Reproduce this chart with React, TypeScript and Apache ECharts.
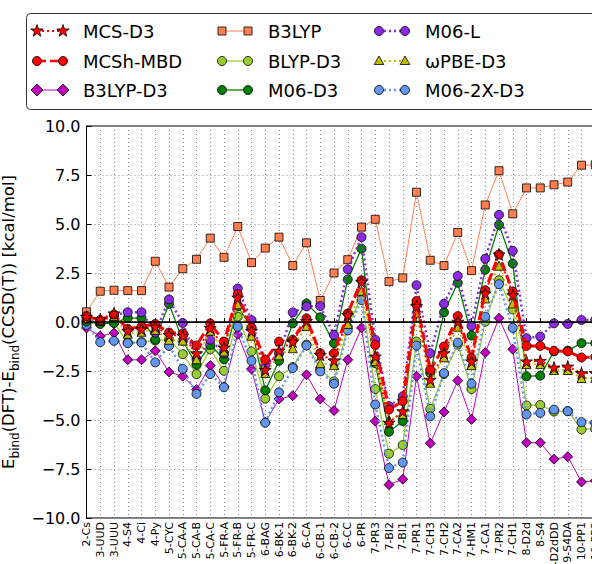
import { useEffect, useRef } from 'react';
import * as echarts from 'echarts';

// Complex labels along the x axis
const categories = [
  '2-Cs', '3-UUD', '3-UUU', '4-S4', '4-Ci', '4-Py', '5-CYC', '5-CA-A', '5-CA-B', '5-CA-C',
  '5-FR-A', '5-FR-B', '5-FR-C', '6-BAG', '6-BK-1', '6-BK-2', '6-CA', '6-CB-1', '6-CB-2', '6-CC',
  '6-PR', '7-PR3', '7-BI2', '7-BI1', '7-PR1', '7-CH3', '7-CH2', '7-CA2', '7-HM1', '7-CA1',
  '7-PR2', '7-CH1', '8-D2d', '8-S4', '8-D2dDD', '9-S4DA', '10-PP1', '10-PP2',
];

// Binding-energy errors, kcal/mol
const mcsD3 = [0.27, 0.14, 0.44, -0.45, -0.37, -0.24, -0.66, -0.70, -1.59, -0.30, -1.30, 1.25, -0.45, -2.44, -1.46, -1.00, 0.05, -1.68, -1.96, 0.36, 2.05, -1.76, -5.14, -4.55, 0.81, -2.94, -1.59, 0.02, -2.01, 1.46, 3.45, 1.37, -2.01, -1.98, -2.32, -2.27, -2.61, -2.60];
const mcshMbd = [0.30, 0.10, 0.38, -0.35, -0.24, -0.10, -0.54, -0.58, -1.20, -0.07, -1.00, 1.42, -0.30, -1.93, -1.00, -0.91, 0.19, -1.59, -1.59, 0.44, 2.13, -1.17, -4.47, -4.04, 1.07, -2.44, -1.25, 0.30, -1.84, 1.62, 3.45, 1.55, -1.22, -1.22, -1.47, -1.50, -1.81, -1.79];
const b3lypD3 = [-0.30, -0.72, -0.56, -1.93, -1.93, -1.47, -2.55, -2.77, -3.45, -2.22, -3.30, -0.63, -2.40, -5.12, -3.93, -3.76, -2.69, -3.93, -4.52, -1.93, -0.30, -5.06, -8.30, -8.02, -2.77, -6.19, -4.59, -2.99, -4.97, -1.56, 0.19, -1.39, -6.16, -6.16, -7.00, -6.87, -8.16, -8.10];
const b3lyp = [0.52, 1.57, 1.62, 1.60, 1.60, 3.10, 1.78, 2.72, 3.20, 4.28, 3.30, 4.87, 3.03, 3.77, 4.33, 2.88, 4.04, 1.10, 2.50, 3.18, 4.84, 5.24, 2.06, 2.25, 6.62, 3.15, 2.88, 4.57, 2.62, 5.97, 7.72, 5.52, 6.84, 6.84, 7.00, 7.14, 8.00, 8.02];
const blypD3 = [-0.03, -0.07, -0.03, -1.05, -1.02, -0.95, -0.90, -1.64, -2.66, -1.39, -2.49, 0.27, -1.50, -3.91, -2.77, -2.30, -1.15, -2.40, -3.03, -0.25, 1.30, -3.42, -6.72, -6.28, -1.00, -4.43, -2.65, -1.15, -3.42, 0.02, 2.13, 0.64, -4.26, -4.23, -4.57, -4.55, -5.48, -5.45];
const m06D3 = [0.02, -0.10, -0.05, 0.20, 0.20, -0.90, 0.93, -0.95, -2.18, -1.17, -1.90, 0.80, -0.30, -3.49, -1.98, -0.07, 0.95, 0.24, -1.08, 2.17, 3.74, -2.10, -5.60, -5.06, 0.90, -2.60, 0.49, 2.00, -0.69, 2.67, 4.96, 2.98, -2.77, -2.74, -1.50, -1.46, -1.08, -1.08];
const m06L = [0.15, 0.05, 0.35, 0.50, 0.50, -0.54, 1.15, -0.05, -1.90, -0.90, -1.60, 1.71, 0.10, -2.20, -1.60, 0.49, 0.80, 0.81, -0.66, 2.69, 4.33, -0.91, -4.30, -3.79, 1.88, -1.59, 0.93, 2.35, -0.20, 3.23, 5.47, 3.63, -0.83, -0.74, -0.07, -0.10, 0.10, 0.10];
const wpbeD3 = [0.20, 0.05, 0.30, -0.60, -0.50, -0.40, -0.91, -0.95, -1.90, -0.45, -1.50, 0.90, -0.70, -2.60, -1.70, -1.34, -0.20, -2.10, -2.20, -0.10, 1.59, -2.00, -5.00, -4.70, 0.45, -3.10, -1.80, -0.24, -2.20, 1.20, 2.87, 0.95, -2.15, -2.15, -2.45, -2.45, -2.86, -2.85];
const m062xD3 = [-0.15, -1.03, -0.96, -1.08, -1.05, -2.06, -1.22, -2.39, -3.67, -2.66, -3.33, -0.24, -1.98, -5.14, -3.59, -2.35, -1.20, -2.52, -3.15, -0.42, 1.12, -4.21, -7.45, -7.17, -1.20, -4.81, -2.61, -1.05, -3.15, 0.27, 1.93, -0.30, -4.72, -4.64, -4.47, -4.55, -5.11, -5.15];

// y axis range and step
const yMin = -10;
const yMax = 10;
const yStep = 2.5;

const FONT = 'DejaVu Sans';
const STAR_PATH =
  'path://M0,-10L2.245,-3.09L9.511,-3.09L3.633,1.18L5.878,8.09L0,3.82L-5.878,8.09L-3.633,1.18L-9.511,-3.09L-2.245,-3.09Z';

type Mark = 'star' | 'circle' | 'diamond' | 'rect' | 'triangle';

interface Method {
  name: string;
  values: number[];
  color: string;
  mark: Mark;
  size: number;
  dash: number[] | null;
  width: number;
}

// Listed in legend order (column by column)
const methods: Method[] = [
  { name: 'MCS-D3', values: mcsD3, color: '#ff0000', mark: 'star', size: 12, dash: [2, 3], width: 2 },
  { name: 'MCSh-MBD', values: mcshMbd, color: '#ff0000', mark: 'circle', size: 9, dash: [9, 4], width: 3 },
  { name: 'B3LYP-D3', values: b3lypD3, color: '#bf00bf', mark: 'diamond', size: 10, dash: null, width: 1 },
  { name: 'B3LYP', values: b3lyp, color: '#ff7f50', mark: 'rect', size: 8, dash: null, width: 1 },
  { name: 'BLYP-D3', values: blypD3, color: '#9acd32', mark: 'circle', size: 9, dash: null, width: 1.3 },
  { name: 'M06-D3', values: m06D3, color: '#008000', mark: 'circle', size: 9, dash: null, width: 1.3 },
  { name: 'M06-L', values: m06L, color: '#8a2be2', mark: 'circle', size: 9, dash: [2, 3], width: 2.5 },
  { name: 'ωPBE-D3', values: wpbeD3, color: '#bfbf00', mark: 'triangle', size: 9, dash: [2, 3], width: 2 },
  { name: 'M06-2X-D3', values: m062xD3, color: '#6495ed', mark: 'circle', size: 9, dash: [2, 3], width: 2.5 },
];

// Drawing order: the MCS curves go on top
const drawOrder = ['B3LYP', 'B3LYP-D3', 'BLYP-D3', 'M06-2X-D3', 'M06-D3', 'M06-L', 'ωPBE-D3', 'MCSh-MBD', 'MCS-D3'];

const symbolFor = (m: Mark) =>
  m === 'star' ? STAR_PATH : m === 'circle' ? 'circle' : m === 'diamond' ? 'diamond' : m === 'rect' ? 'rect' : 'triangle';

function legendMarker(m: Mark, cx: number, cy: number, color: string): any {
  const style = { fill: color, stroke: '#000', lineWidth: 0.8 };
  if (m === 'circle') return { type: 'circle', shape: { cx, cy, r: 4.5 }, style };
  if (m === 'rect') return { type: 'rect', shape: { x: cx - 4, y: cy - 4, width: 8, height: 8 }, style };
  if (m === 'diamond')
    return { type: 'polygon', shape: { points: [[cx, cy - 6], [cx + 6, cy], [cx, cy + 6], [cx - 6, cy]] }, style };
  if (m === 'triangle')
    return { type: 'polygon', shape: { points: [[cx, cy - 5], [cx + 4.8, cy + 3.5], [cx - 4.8, cy + 3.5]] }, style };
  const pts: number[][] = [];
  for (let k = 0; k < 10; k++) {
    const r = k % 2 === 0 ? 6.5 : 2.6;
    const a = -Math.PI / 2 + (k * Math.PI) / 5;
    pts.push([cx + r * Math.cos(a), cy + r * Math.sin(a)]);
  }
  return { type: 'polygon', shape: { points: pts }, style };
}

function buildLegend(): any[] {
  const colX = [37, 222, 379];
  const rowY = [31, 61, 90];
  const els: any[] = [
    {
      type: 'rect',
      shape: { x: 26.5, y: 13.5, width: 700, height: 96, r: 4 },
      style: { fill: '#fff', stroke: '#333', lineWidth: 1 },
      z: 10,
    },
  ];
  methods.forEach((m, i) => {
    const x0 = colX[Math.floor(i / 3)];
    const y = rowY[i % 3];
    els.push({
      type: 'line',
      shape: { x1: x0, y1: y, x2: x0 + 26, y2: y },
      style: { stroke: m.color, lineWidth: Math.min(m.width, 2.5), lineDash: m.dash ?? undefined },
      z: 11,
    });
    els.push({ ...legendMarker(m.mark, x0, y, m.color), z: 12 });
    els.push({ ...legendMarker(m.mark, x0 + 26, y, m.color), z: 12 });
    els.push({
      type: 'text',
      x: x0 + 46,
      y,
      style: { text: m.name, font: `18px "${FONT}"`, fill: '#000', verticalAlign: 'middle', textAlign: 'left' },
      z: 12,
    });
  });
  return els;
}

export default function App() {
  const ref = useRef<HTMLDivElement>(null);

  useEffect(() => {
    if (!ref.current) return;
    const chart = echarts.init(ref.current, undefined, { renderer: 'svg' });

    const series: any[] = drawOrder.map((nm, idx) => {
      const m = methods.find((x) => x.name === nm)!;
      const s: any = {
        name: m.name,
        type: 'line',
        data: m.values,
        symbol: symbolFor(m.mark),
        symbolSize: m.size,
        showSymbol: true,
        showAllSymbol: true,
        color: m.color,
        lineStyle: { color: m.color, width: m.width, type: m.dash ?? 'solid', cap: 'butt' },
        itemStyle: { color: m.color, borderColor: '#000', borderWidth: 0.8 },
        emphasis: { disabled: true },
        z: 2 + idx * 0.01,
      };
      if (idx === 0) {
        s.markLine = {
          silent: true,
          symbol: ['none', 'none'],
          label: { show: false },
          lineStyle: { color: '#000', type: 'solid', width: 1.5 },
          data: [{ yAxis: 0 }],
        };
      }
      return s;
    });

    const gridLine = { show: true, lineStyle: { color: '#8a8a8a', type: [1, 3], width: 1 } };

    chart.setOption({
      animation: false,
      backgroundColor: '#fff',
      textStyle: { fontFamily: FONT },
      grid: {
        left: 86.5,
        top: 126,
        width: 37 * 13.75,
        height: 392,
        show: true,
        borderColor: '#000',
        borderWidth: 1,
        containLabel: false,
        outerBoundsMode: 'none',
      },
      xAxis: {
        type: 'category',
        data: categories,
        boundaryGap: false,
        axisLine: { show: true, lineStyle: { color: '#000', width: 1 } },
        axisTick: { show: true, inside: true, length: 4, interval: 0, lineStyle: { color: '#000' } },
        axisLabel: { interval: 0, rotate: 90, fontSize: 11, margin: 4, color: '#000', fontFamily: FONT },
        splitLine: { ...gridLine, interval: 0 },
      },
      yAxis: {
        type: 'value',
        min: yMin,
        max: yMax,
        interval: yStep,
        axisLine: { show: true, lineStyle: { color: '#000', width: 1 } },
        axisTick: { show: true, inside: true, length: 5, lineStyle: { color: '#000' } },
        axisLabel: {
          fontSize: 16,
          color: '#000',
          margin: 6,
          fontFamily: FONT,
          formatter: (v: number) => (v < 0 ? '\u2212' : '') + Math.abs(v).toFixed(1),
        },
        splitLine: gridLine,
        name: '{m|E}{s|bind}{m|(DFT)-E}{s|bind}{m|(CCSD(T)) [kcal/mol]}',
        nameLocation: 'middle',
        nameRotate: 90,
        nameGap: 55,
        nameTextStyle: {
          fontFamily: FONT,
          color: '#000',
          rich: {
            m: { fontSize: 16.5, lineHeight: 21, verticalAlign: 'top', fontFamily: FONT, color: '#000' },
            s: { fontSize: 12, lineHeight: 12, verticalAlign: 'bottom', fontFamily: FONT, color: '#000' },
          },
        },
      },
      graphic: buildLegend(),
      series,
    });

    return () => chart.dispose();
  }, []);

  return (
    <div
      style={{ position: 'fixed', left: 0, top: 0, width: 592, height: 564, overflow: 'hidden', background: '#fff' }}
    >
      <div ref={ref} style={{ width: 660, height: 620 }} />
    </div>
  );
}
